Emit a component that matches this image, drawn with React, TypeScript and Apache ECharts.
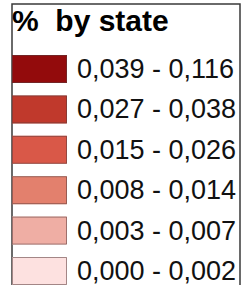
import React, { useEffect, useRef } from "react";
import * as echarts from "echarts";

const titleText = "%\u00a0 by state";
const lowerBounds = [0.0, 0.003, 0.008, 0.015, 0.027, 0.039];
const upperBounds = [0.002, 0.007, 0.014, 0.026, 0.038, 0.116];
const classColors = ["#fde1e0", "#efaea4", "#e3806d", "#d95848", "#c0392c", "#930b0c"];

const fmt = (v: number) => v.toFixed(3).replace(".", ",");

const LEG_LEFT = 12;
const LEG_TOP = 55;
const ITEM_W = 55;
const ITEM_H = 28;
const ITEM_GAP = 12.4;

export default function App() {
  const ref = useRef<HTMLDivElement>(null);
  useEffect(() => {
    if (!ref.current) return;
    const chart = echarts.init(ref.current, undefined, { renderer: "svg" });
    const pieces = lowerBounds.map((lo, i) => ({
      min: lo,
      max: upperBounds[i],
      label: `${fmt(lo)} - ${fmt(upperBounds[i])}`,
      color: classColors[i],
    }));
    const n = pieces.length;
    const outlines = pieces.map((_, i) => ({
      type: "rect",
      silent: true,
      z: 100,
      shape: {
        x: LEG_LEFT + 0.5,
        y: LEG_TOP + (n - 1 - i) * (ITEM_H + ITEM_GAP) + 0.5,
        width: ITEM_W - 1,
        height: ITEM_H - 1,
      },
      style: { fill: "none", stroke: "rgba(90,60,60,0.55)", lineWidth: 1 },
    }));
    chart.setOption({
      animation: false,
      backgroundColor: "#ffffff",
      title: {
        text: titleText,
        left: 12,
        top: 5,
        padding: 0,
        textStyle: {
          fontFamily: "Liberation Sans",
          fontWeight: "bold",
          fontSize: 30,
          color: "#000",
        },
      },
      visualMap: {
        type: "piecewise",
        pieces,
        orient: "vertical",
        left: LEG_LEFT,
        top: LEG_TOP,
        padding: 0,
        itemWidth: ITEM_W,
        itemHeight: ITEM_H,
        itemGap: ITEM_GAP,
        itemSymbol: "rect",
        textGap: 10,
        selectedMode: false,
        hoverLink: false,
        showLabel: true,
        textStyle: {
          fontFamily: "Liberation Sans",
          fontSize: 27,
          color: "#111",
        },
      },
      graphic: [
        {
          type: "rect",
          silent: true,
          shape: { x: 12, y: 4, width: 228, height: 300 },
          style: { fill: "none", stroke: "#3a3a3a", lineWidth: 1.5 },
        },
        ...outlines,
      ],
    });
    return () => chart.dispose();
  }, []);
  return (
    <div
      ref={ref}
      style={{ position: "fixed", left: 0, top: 0, width: 243, height: 285 }}
    />
  );
}
